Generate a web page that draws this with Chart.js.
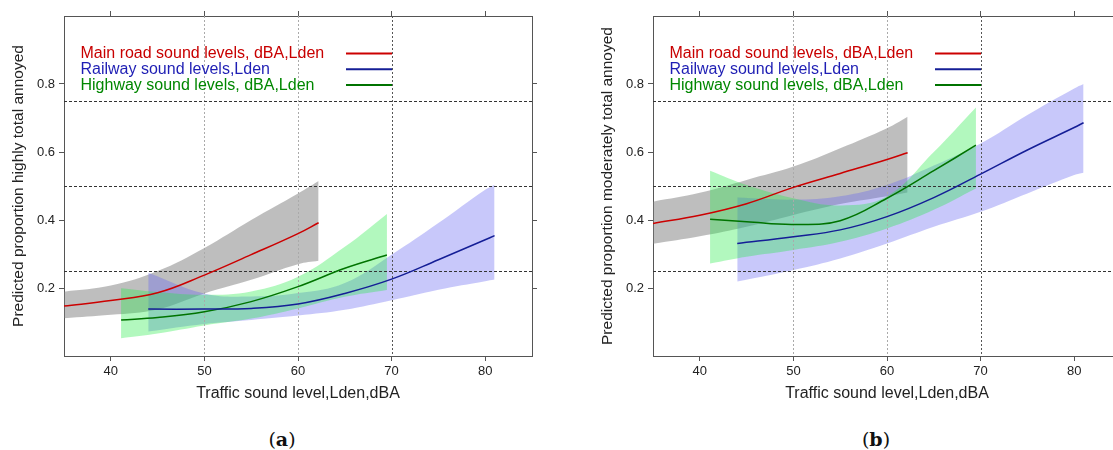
<!DOCTYPE html>
<html>
<head>
<meta charset="utf-8">
<script src="https://cdn.jsdelivr.net/npm/chart.js@4.4.0/dist/chart.umd.min.js"></script>
<style>
  html, body { margin: 0; padding: 0; background: #fff; overflow: hidden; }
  body { width: 1113px; height: 450px; position: relative; }
  .panel { position: absolute; top: 0; width: 556px; height: 410px; }
  .cap { position: absolute; top: 427px; width: 60px; text-align: center; line-height: 24px;
         font-family: "DejaVu Serif", "Liberation Serif", serif; font-size: 19px; color: #111; }
</style>
</head>
<body>
<div class="panel" style="left:0px"><canvas id="chartA"></canvas></div>
<div class="panel" style="left:589px"><canvas id="chartB"></canvas></div>
<div class="cap" style="left:252px">(<b>a</b>)</div>
<div class="cap" style="left:846px">(<b>b</b>)</div>
<script>
Chart.defaults.font.family = '"Liberation Sans", Arial, sans-serif';

// ---axes---
var xTicks = [40, 50, 60, 70, 80];
var yTicks = [0.2, 0.4, 0.6, 0.8];
var refX = [50, 60, 70];
var refY = [0.25, 0.5, 0.75];
var seriesLabels = ['Main road sound levels, dBA,Lden', 'Railway sound levels,Lden', 'Highway sound levels, dBA,Lden'];

// ---panel a : highly annoyed---
var mainXA = [35, 40, 45, 50, 55, 60, 62.2];
var mainFitA = [0.147, 0.163, 0.186, 0.238, 0.298, 0.360, 0.392];
var mainUpA  = [0.189, 0.207, 0.250, 0.318, 0.400, 0.478, 0.515];
var mainLoA  = [0.111, 0.121, 0.137, 0.184, 0.224, 0.270, 0.280];

var railXA = [44, 50, 55, 60, 65, 70, 75, 80, 81];
var railFitA = [0.138, 0.138, 0.140, 0.153, 0.184, 0.226, 0.283, 0.342, 0.354];
var railUpA  = [0.245, 0.184, 0.175, 0.185, 0.215, 0.298, 0.391, 0.489, 0.504];
var railLoA  = [0.072, 0.094, 0.106, 0.119, 0.136, 0.164, 0.195, 0.220, 0.225];

var highXA = [41.1, 45, 50, 55, 60, 65, 69.5];
var highFitA = [0.106, 0.113, 0.130, 0.160, 0.204, 0.258, 0.297];
var highUpA  = [0.199, 0.188, 0.180, 0.190, 0.233, 0.321, 0.418];
var highLoA  = [0.052, 0.066, 0.090, 0.110, 0.140, 0.174, 0.194];

// ---panel b : moderately annoyed---
var mainXB = [35, 40, 45, 50, 55, 60, 62.2];
var mainFitB = [0.390, 0.414, 0.448, 0.496, 0.537, 0.578, 0.598];
var mainUpB  = [0.454, 0.480, 0.518, 0.557, 0.611, 0.670, 0.704];
var mainLoB  = [0.330, 0.352, 0.380, 0.415, 0.447, 0.470, 0.481];

var railXB = [44, 50, 55, 60, 65, 70, 75, 80, 81];
var railFitB = [0.331, 0.351, 0.371, 0.410, 0.466, 0.535, 0.606, 0.672, 0.686];
var railUpB  = [0.466, 0.460, 0.470, 0.503, 0.560, 0.625, 0.709, 0.787, 0.800];
var railLoB  = [0.219, 0.253, 0.287, 0.331, 0.380, 0.424, 0.478, 0.532, 0.539];

var highXB = [41.1, 45, 50, 55, 60, 65, 69.5];
var highFitB = [0.402, 0.395, 0.387, 0.398, 0.464, 0.545, 0.620];
var highUpB  = [0.545, 0.503, 0.464, 0.443, 0.470, 0.600, 0.731];
var highLoB  = [0.272, 0.292, 0.312, 0.336, 0.375, 0.430, 0.493];

var lineColors = ['rgb(204, 0, 0)', 'rgb(20, 30, 150)', 'rgb(0, 115, 0)'];
var textColors = ['rgb(200, 0, 0)', 'rgb(30, 30, 180)', 'rgb(0, 135, 0)'];
var bandColors = ['rgba(125, 125, 125, 0.5)', 'rgba(98, 98, 241, 0.35)', 'rgba(35, 235, 69, 0.35)'];

function pts(xs, ys) {
  return xs.map((x, i) => ({x: x, y: ys[i]}));
}

function lineSet(xs, ys, color) {
  return {
    data: pts(xs, ys), borderColor: color, borderWidth: 1.5, pointRadius: 0,
    fill: false, tension: 0.4
  };
}

function bandSets(xs, up, lo, color) {
  return [
    { data: pts(xs, up), borderWidth: 0, borderColor: 'transparent', backgroundColor: color,
      pointRadius: 0, fill: '+1', tension: 0.4 },
    { data: pts(xs, lo), borderWidth: 0, borderColor: 'transparent',
      pointRadius: 0, fill: false, tension: 0.4 }
  ];
}

var refLines = {
  id: 'refLines',
  beforeDatasetsDraw(chart) {
    const {ctx, chartArea: a, scales: {x, y}} = chart;
    ctx.save();
    ctx.lineWidth = 1;
    ctx.setLineDash([2, 2]);
    refX.forEach((v, i) => {
      const px = Math.round(x.getPixelForValue(v)) + 0.5;
      ctx.strokeStyle = v == 70 ? '#555' : '#aaa';
      ctx.beginPath(); ctx.moveTo(px, a.top); ctx.lineTo(px, a.bottom); ctx.stroke();
    });
    ctx.setLineDash([3, 2]);
    ctx.strokeStyle = '#333';
    refY.forEach(v => {
      const py = Math.round(y.getPixelForValue(v)) + 0.5;
      ctx.beginPath(); ctx.moveTo(a.left, py); ctx.lineTo(a.right, py); ctx.stroke();
    });
    ctx.restore();
  }
};

var keyBox = {
  id: 'keyBox',
  afterDatasetsDraw(chart) {
    const {ctx, chartArea: a} = chart;
    ctx.save();
    ctx.font = '16px "Liberation Sans", Arial, sans-serif';
    ctx.textBaseline = 'middle';
    seriesLabels.forEach((lab, i) => {
      const ty = a.top + 37.5 + i * 15.8;
      ctx.fillStyle = textColors[i];
      ctx.fillText(lab, a.left + 16.5, ty);
      ctx.strokeStyle = lineColors[i];
      ctx.lineWidth = 2;
      ctx.beginPath(); ctx.moveTo(a.left + 282, ty); ctx.lineTo(a.left + 328, ty); ctx.stroke();
    });
    ctx.restore();
  }
};

function makeScales(yTitle) {
  var gridOpts = { drawOnChartArea: false, tickLength: 5, color: '#555' };
  var borderOpts = { color: '#555', width: 1 };
  return {
    x: {
      type: 'linear', position: 'bottom', min: 35, max: 85,
      afterBuildTicks: s => { s.ticks = xTicks.map(v => ({value: v})); },
      afterFit: s => { s.height = 54; },
      grid: gridOpts, border: borderOpts,
      ticks: { padding: 3, color: '#222', font: {size: 13}, maxRotation: 0 },
      title: { display: true, text: 'Traffic sound level,Lden,dBA', color: '#222',
               font: {size: 16}, padding: {top: 0, bottom: 7} }
    },
    xTop: {
      type: 'linear', position: 'top', min: 35, max: 85,
      afterBuildTicks: s => { s.ticks = xTicks.map(v => ({value: v})); },
      afterFit: s => { s.height = 16; },
      grid: gridOpts, border: borderOpts, ticks: { display: false }
    },
    y: {
      type: 'linear', position: 'left', min: 0, max: 1,
      afterBuildTicks: s => { s.ticks = yTicks.map(v => ({value: v})); },
      afterFit: s => { s.width = 64; },
      grid: gridOpts, border: borderOpts,
      ticks: { padding: 4, color: '#222', font: {size: 13}, callback: v => v.toFixed(1) },
      title: { display: true, text: yTitle, color: '#222', font: {size: 15.5}, padding: {top: 9, bottom: 0} }
    },
    yRight: {
      type: 'linear', position: 'right', min: 0, max: 1,
      afterBuildTicks: s => { s.ticks = yTicks.map(v => ({value: v})); },
      afterFit: s => { s.width = 24; },
      grid: gridOpts, border: borderOpts, ticks: { display: false }
    }
  };
}

function makeConfig(sets, yTitle) {
  var datasets = [
    lineSet(sets.mainX, sets.mainFit, lineColors[0]),
    lineSet(sets.railX, sets.railFit, lineColors[1]),
    lineSet(sets.highX, sets.highFit, lineColors[2])
  ].concat(
    bandSets(sets.highX, sets.highUp, sets.highLo, bandColors[2]),
    bandSets(sets.railX, sets.railUp, sets.railLo, bandColors[1]),
    bandSets(sets.mainX, sets.mainUp, sets.mainLo, bandColors[0])
  );
  return {
    type: 'line',
    data: { datasets: datasets },
    options: {
      responsive: true, maintainAspectRatio: false, animation: false,
      layout: { padding: 0 },
      scales: makeScales(yTitle),
      plugins: {
        legend: { display: false },
        tooltip: { enabled: false },
        filler: { drawTime: 'beforeDatasetsDraw' }
      }
    },
    plugins: [refLines, keyBox]
  };
}

var chartA = new Chart(document.getElementById('chartA'), makeConfig({
  mainX: mainXA, mainFit: mainFitA, mainUp: mainUpA, mainLo: mainLoA,
  railX: railXA, railFit: railFitA, railUp: railUpA, railLo: railLoA,
  highX: highXA, highFit: highFitA, highUp: highUpA, highLo: highLoA
}, 'Predicted proportion highly total annoyed'));

var chartB = new Chart(document.getElementById('chartB'), makeConfig({
  mainX: mainXB, mainFit: mainFitB, mainUp: mainUpB, mainLo: mainLoB,
  railX: railXB, railFit: railFitB, railUp: railUpB, railLo: railLoB,
  highX: highXB, highFit: highFitB, highUp: highUpB, highLo: highLoB
}, 'Predicted proportion moderately total annoyed'));
</script>
</body>
</html>
